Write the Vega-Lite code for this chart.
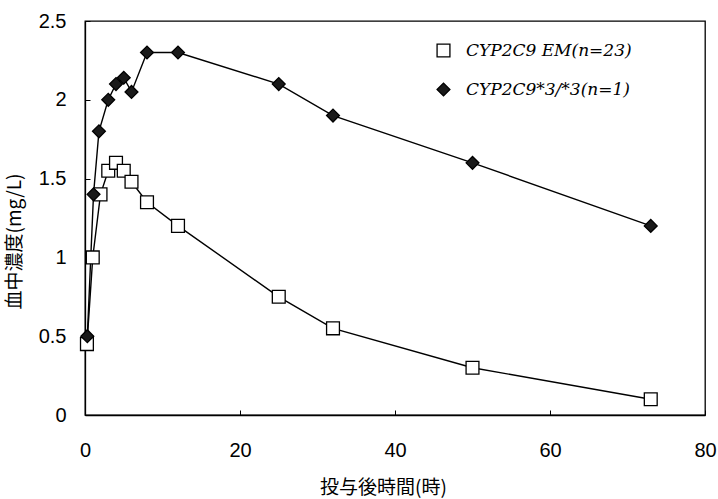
{
  "$schema": "https://vega.github.io/schema/vega-lite/v6.json",
  "width": 620,
  "height": 394,
  "autosize": {"type": "none"},
  "padding": {"left": 85, "top": 21, "right": 13, "bottom": 84},
  "background": "white",
  "config": {
    "view": {"stroke": "black", "strokeWidth": 1.3},
    "axis": {
      "grid": false,
      "domainColor": "black",
      "domainWidth": 1.3,
      "tickColor": "black",
      "tickSize": -5,
      "labelColor": "black",
      "titleColor": "black",
      "labelFont": "Liberation Sans",
      "labelFontSize": 20,
      "titleFont": "Noto Sans CJK JP",
      "titleFontSize": 19,
      "titleFontWeight": "normal"
    },
    "legend": {
      "orient": "none",
      "legendX": 350,
      "legendY": 21,
      "padding": 0,
      "labelFont": "DejaVu Serif",
      "labelFontStyle": "italic",
      "labelFontSize": 17,
      "labelLimit": 0,
      "labelColor": "black",
      "labelOffset": 14,
      "rowPadding": 20,
      "symbolSize": 165,
      "symbolStrokeColor": "black",
      "symbolStrokeWidth": 1.3
    }
  },
  "data": {
    "values": [
      {"g": "CYP2C9 EM(n=23)", "t": 0.25, "c": 0.45},
      {"g": "CYP2C9 EM(n=23)", "t": 1, "c": 1.0},
      {"g": "CYP2C9 EM(n=23)", "t": 2, "c": 1.4},
      {"g": "CYP2C9 EM(n=23)", "t": 3, "c": 1.55},
      {"g": "CYP2C9 EM(n=23)", "t": 4, "c": 1.6},
      {"g": "CYP2C9 EM(n=23)", "t": 5, "c": 1.55},
      {"g": "CYP2C9 EM(n=23)", "t": 6, "c": 1.48},
      {"g": "CYP2C9 EM(n=23)", "t": 8, "c": 1.35},
      {"g": "CYP2C9 EM(n=23)", "t": 12, "c": 1.2},
      {"g": "CYP2C9 EM(n=23)", "t": 25, "c": 0.75},
      {"g": "CYP2C9 EM(n=23)", "t": 32, "c": 0.55},
      {"g": "CYP2C9 EM(n=23)", "t": 50, "c": 0.3},
      {"g": "CYP2C9 EM(n=23)", "t": 73, "c": 0.1},
      {"g": "CYP2C9*3/*3(n=1)", "t": 0.3, "c": 0.5},
      {"g": "CYP2C9*3/*3(n=1)", "t": 1.1, "c": 1.4},
      {"g": "CYP2C9*3/*3(n=1)", "t": 1.8, "c": 1.8},
      {"g": "CYP2C9*3/*3(n=1)", "t": 3, "c": 2.0},
      {"g": "CYP2C9*3/*3(n=1)", "t": 4, "c": 2.1},
      {"g": "CYP2C9*3/*3(n=1)", "t": 5, "c": 2.14},
      {"g": "CYP2C9*3/*3(n=1)", "t": 6, "c": 2.05},
      {"g": "CYP2C9*3/*3(n=1)", "t": 8, "c": 2.3},
      {"g": "CYP2C9*3/*3(n=1)", "t": 12, "c": 2.3},
      {"g": "CYP2C9*3/*3(n=1)", "t": 25, "c": 2.1},
      {"g": "CYP2C9*3/*3(n=1)", "t": 32, "c": 1.9},
      {"g": "CYP2C9*3/*3(n=1)", "t": 50, "c": 1.6},
      {"g": "CYP2C9*3/*3(n=1)", "t": 73, "c": 1.2}
    ]
  },
  "encoding": {
    "x": {
      "field": "t",
      "type": "quantitative",
      "scale": {"domain": [0, 80], "nice": false},
      "axis": {"values": [0, 20, 40, 60, 80], "title": "投与後時間(時)", "labelPadding": 30, "titlePadding": 18, "labelFlush": false, "titleX": 298}
    },
    "y": {
      "field": "c",
      "type": "quantitative",
      "scale": {"domain": [0, 2.5], "nice": false},
      "axis": {"values": [0, 0.5, 1, 1.5, 2, 2.5], "format": "~g", "title": "血中濃度(mg/L)", "labelPadding": 24, "titlePadding": 14, "labelFlush": false, "titleY": 220}
    }
  },
  "layer": [
    {
      "mark": {"type": "line", "color": "black", "strokeWidth": 1.4},
      "encoding": {"detail": {"field": "g", "type": "nominal"}}
    },
    {
      "mark": {"type": "point", "filled": true, "strokeWidth": 1.3, "opacity": 1, "size": 165},
      "encoding": {
        "shape": {
          "field": "g",
          "type": "nominal",
          "scale": {"domain": ["CYP2C9 EM(n=23)", "CYP2C9*3/*3(n=1)"], "range": ["square", "diamond"]},
          "legend": {"title": null}
        },
        "fill": {
          "field": "g",
          "type": "nominal",
          "scale": {"domain": ["CYP2C9 EM(n=23)", "CYP2C9*3/*3(n=1)"], "range": ["white", "#1a1a1a"]},
          "legend": {"title": null}
        },
        "stroke": {
          "field": "g",
          "type": "nominal",
          "scale": {"domain": ["CYP2C9 EM(n=23)", "CYP2C9*3/*3(n=1)"], "range": ["black", "black"]},
          "legend": {"title": null}
        }
      }
    }
  ]
}
